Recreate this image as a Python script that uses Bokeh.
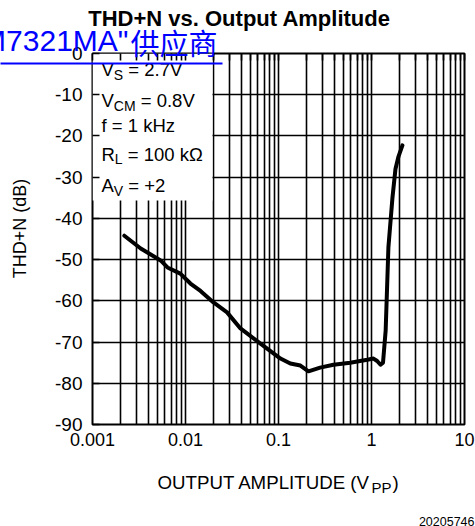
import math
from bokeh.plotting import figure
from bokeh.models import (Range1d, FixedTicker, LogAxis, Label, CustomJSTickFormatter)
from bokeh.core.properties import value
from bokeh.embed import file_html
from bokeh.resources import INLINE

# ---------------- data ----------------
amplitude_vpp = [0.0022, 0.0033, 0.0054, 0.0064, 0.0088, 0.0113, 0.0145, 0.020, 0.028,
                 0.039, 0.064, 0.105, 0.134, 0.172, 0.21, 0.28, 0.39, 0.59, 0.90, 1.05,
                 1.15, 1.25, 1.33, 1.42, 1.52, 1.68, 1.81, 1.95, 2.15]
thdn_db = [-44.2, -47.3, -50.2, -51.9, -53.4, -55.8, -57.6, -60.4, -62.8,
           -66.7, -70.4, -74.0, -75.2, -75.7, -77.1, -76.2, -75.5, -75.0, -74.3, -74.0,
           -74.6, -75.5, -75.0, -67.2, -47.0, -35.0, -28.0, -25.0, -22.3]

x_ticks = [0.001, 0.01, 0.1, 1, 10]
y_ticks = [-90, -80, -70, -60, -50, -40, -30, -20, -10, 0]
decades = [-3, -2, -1, 0]
multipliers = [1, 2, 3, 4, 5, 6, 7, 8, 9]

title_text = "THD+N vs. Output Amplitude"
x_label_main = "OUTPUT AMPLITUDE (V"
x_label_sub = "PP"
x_label_end = ")"
y_label_text = "THD+N (dB)"
conditions = [("V", "S", "= 2.7V"), ("V", "CM", "= 0.8V"), ("f = 1 kHz", "", ""),
              ("R", "L", "= 100 k\u03a9"), ("A", "V", "= +2")]
watermark_latin = "\"LM7321MA\""
watermark_cjk = "\u4f9b\u5e94\u5546"
figure_id = "20205746"

FONT = "Liberation Sans"

W, H = 475, 526
FL, FR, FT, FB = 92, 464, 53, 424
def X(px):
    return 10 ** (-3 + 4 * (px - FL) / (FR - FL))
def Y(py):
    return -90 * (py - FT) / (FB - FT)

AW = {' ': 278, '=': 584, '.': 278, '+': 584, '(': 333, ')': 333, 'V': 667, 'S': 667,
      'C': 722, 'M': 833, 'R': 722, 'L': 556, 'A': 667, 'P': 667, 'f': 278, 'k': 500,
      'H': 722, 'z': 500, '\u03a9': 768, 'O': 778, 'U': 722, 'T': 611, 'I': 278,
      'D': 722, 'E': 667}
def tw(s, size):
    return sum(AW.get(c, 556) for c in s) * size / 1000.0

p = figure(width=W, height=H, x_axis_type="log",
           x_range=Range1d(0.001, 10), y_range=Range1d(-90, 0),
           output_backend="svg", toolbar_location=None,
           min_border_left=FL, min_border_right=W - FR, min_border_top=FT,
           min_border_bottom=H - FB)
p.background_fill_color = "white"
p.border_fill_color = "white"
p.outline_line_color = "black"
p.outline_line_width = 2
p.outline_line_alpha = 1

grid_x = [m * 10 ** d for d in decades for m in multipliers] + [10]
p.xgrid.ticker = FixedTicker(ticks=grid_x)
p.ygrid.ticker = FixedTicker(ticks=y_ticks)
for g in (p.xgrid, p.ygrid):
    g.grid_line_color = "black"
    g.grid_line_width = 1.6
    g.grid_line_alpha = 1

xa = p.xaxis[0]
xa.ticker = FixedTicker(ticks=x_ticks)
xa.formatter = CustomJSTickFormatter(code="return String(tick)")
xa.major_label_text_font = FONT
xa.major_label_text_font_size = "18px"
xa.major_label_text_color = "black"
xa.major_label_standoff = 8
xa.major_tick_in = 0
xa.major_tick_out = 0
xa.minor_tick_line_color = None
xa.axis_line_color = None

ya = p.yaxis[0]
ya.ticker = FixedTicker(ticks=y_ticks)
ya.formatter = CustomJSTickFormatter(code="return String(tick)")
ya.major_label_text_font = FONT
ya.major_label_text_font_size = "19px"
ya.major_label_text_color = "black"
ya.major_label_standoff = 10
ya.major_tick_in = 7
ya.major_tick_out = 0
ya.major_tick_line_color = "black"
ya.major_tick_line_width = 1.6
ya.minor_tick_line_color = None
ya.axis_line_color = None

top = LogAxis(ticker=FixedTicker(ticks=grid_x), major_label_text_font_size="0px",
              major_label_text_alpha=0, major_tick_in=7, major_tick_out=0,
              major_tick_line_color="black", major_tick_line_width=1.6,
              minor_tick_line_color=None, axis_line_color=None, major_label_standoff=0)
p.add_layout(top, "above")

# legend background box
p.quad(left=[X(FL)], right=[X(212)], top=[Y(FT)], bottom=[Y(200)],
       fill_color="white", line_color=None)

# curve
p.line(amplitude_vpp, thdn_db, line_width=4, line_color="black",
       line_join="round", line_cap="round")

def lab(text, px, py, size, align="left", place="center", **kw):
    lbl = Label(x=px, y=py, x_units="canvas", y_units="canvas", text=text,
                text_font=kw.pop("font", FONT),
                text_font_size=f"{size}px", text_align=align,
                text_baseline="middle", text_color=kw.pop("color", "black"), **kw)
    if place == "center":
        p.add_layout(lbl)
    else:
        p.add_layout(lbl, place)

# title
lab(title_text, 239, 18, 22, "center", place="above", text_font_style="bold")

# conditions (y = cap centre)
centres = [69, 100, 125, 153.5, 185]
MS, SS = 18.5, 14
for (main, sub, rest), c in zip(conditions, centres):
    x0 = 101
    lab(main, x0, c, MS)
    x1 = x0 + tw(main, MS)
    if sub:
        lab(sub, x1, c + 5, SS)
        x1 += tw(sub, SS)
    if rest:
        lab(rest, x1 + tw(" ", MS), c, MS)

# x axis label
xl0, XS, XSS = 157, 18.7, 15
lab(x_label_main, xl0, 481.5, XS, place="below")
xs = xl0 + tw(x_label_main, XS) + 1
lab(x_label_sub, xs, 487, XSS, place="below")
lab(x_label_end, xs + tw(x_label_sub, XSS) + 1, 481.5, XS, place="below")

# y axis label
lab(y_label_text, 19.5, 228, 18, "center", place="left", angle=math.pi / 2)

# figure id
lab(figure_id, 474, 521, 12.5, "right", place="below")

# watermark (link text with underline), drawn above everything, unclipped
p.text(x=[X(128)], y=[Y(40)], text=[watermark_latin], text_align="right",
       text_baseline="middle", text_color="#0000ff", text_font_size="30px",
       text_font=value("Liberation Sans"), level="overlay")
p.text(x=[X(130)], y=[Y(41)], text=[watermark_cjk], text_align="left",
       text_baseline="middle", text_color="#0000ff", text_font_size="29px",
       text_font=value("Noto Sans CJK SC"), level="overlay")
p.segment(x0=[X(0)], y0=[Y(63)], x1=[X(222)], y1=[Y(63)], line_color="#0000ff",
          line_width=2, level="overlay")

open("out.html", "w").write(file_html(p, INLINE))
